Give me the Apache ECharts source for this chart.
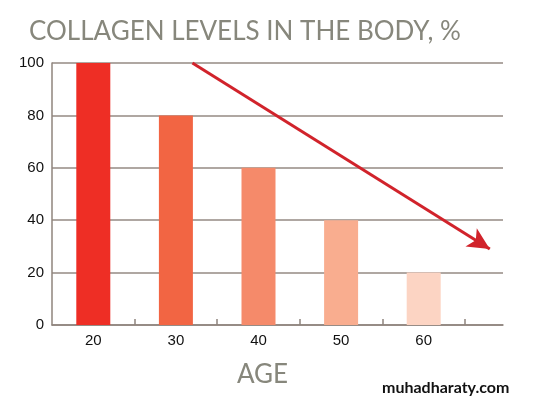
<!DOCTYPE html>
<html><head><meta charset="utf-8">
<script src="https://cdn.jsdelivr.net/npm/echarts@6/dist/echarts.min.js"></script>
<style>html,body{margin:0;padding:0;background:#fff}#c{width:551px;height:398px}</style>
</head><body><div id="c"></div>
<script>
const ages = [20, 30, 40, 50, 60];
const collagen = [100, 80, 60, 40, 20];
const barColors = ['#ee2e25', '#f26543', '#f58a6a', '#f9ad8f', '#fcd4c3'];
const yTicks = [0, 20, 40, 60, 80, 100];
const xTickMarks = [25, 35, 45, 55, 65];
const arrowFrom = [32, 100];
const arrowTo = [68, 29];

const chart = echarts.init(document.getElementById('c'));
chart.setOption({
  animation: false,
  backgroundColor: '#ffffff',
  title: [
    { text: 'COLLAGEN LEVELS IN THE BODY, %', left: 24, top: 14,
      textStyle: { fontFamily: 'Lato', fontWeight: 'normal', fontSize: 26, color: '#87877c' } },
    { text: 'AGE', top: 357, left: 232,
      textStyle: { fontFamily: 'Lato', fontWeight: 'normal', fontSize: 26, color: '#87877c' } },
    { text: 'muhadharaty.com', left: 377, top: 375,
      textStyle: { fontFamily: 'Lato', fontWeight: 'bold', fontSize: 16, color: '#111111' } }
  ],
  grid: { left: 52, right: 48, top: 63, bottom: 73 },
  xAxis: {
    type: 'value', min: 15, max: 69.6,
    axisLine: { show: true, lineStyle: { color: '#8f847d', width: 1.5 } },
    axisTick: { show: true, inside: true, length: 6, customValues: xTickMarks,
      lineStyle: { color: '#8f847d', width: 1.5 } },
    axisLabel: { customValues: ages, color: '#111', fontSize: 15, fontFamily: 'Liberation Sans', margin: 8 },
    splitLine: { show: false }
  },
  yAxis: {
    type: 'value', min: 0, max: 100, interval: 20,
    axisLine: { show: true, lineStyle: { color: '#8f847d', width: 1.5 } },
    axisTick: { show: false },
    axisLabel: { color: '#111', fontSize: 15, fontFamily: 'Liberation Sans', margin: 8 },
    splitLine: { show: true, lineStyle: { color: '#958a83', width: 1.5 } }
  },
  series: [{
    type: 'bar', barWidth: 34,
    data: ages.map((a, i) => ({ value: [a, collagen[i]], itemStyle: { color: barColors[i] } })),
    markLine: {
      silent: true, symbol: ['none', 'arrow'], symbolSize: [16, 22],
      label: { show: false },
      lineStyle: { color: '#d1232b', width: 3, type: 'solid' },
      data: [[{ coord: arrowFrom }, { coord: arrowTo }]]
    }
  }]
});
</script></body></html>
